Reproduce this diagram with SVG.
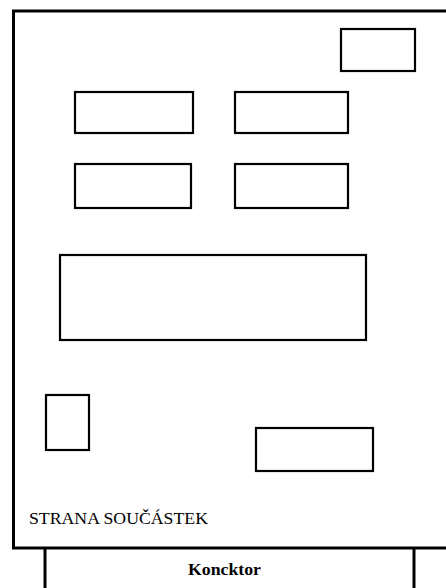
<svg xmlns="http://www.w3.org/2000/svg" width="446" height="588" viewBox="0 0 446 588">
<style>
.board{fill:none;stroke:#000;stroke-width:3}
.part{fill:none;stroke:#000;stroke-width:2.2}
.lbl{font-family:"Liberation Serif","Times New Roman",serif;fill:#000}
</style>
<rect width="446" height="588" fill="#fff"/>
<g id="board">
<polyline class="board" points="446,11 13.5,11 13.5,548 446,548"/>
<text class="lbl" x="29" y="524" font-size="17" textLength="179" lengthAdjust="spacingAndGlyphs">STRANA SOUČÁSTEK</text>
</g>
<g id="part1"><rect class="part" x="341" y="29" width="74" height="42"/></g>
<g id="part2"><rect class="part" x="75" y="92" width="118" height="41"/></g>
<g id="part3"><rect class="part" x="235" y="92" width="113" height="41"/></g>
<g id="part4"><rect class="part" x="75" y="164" width="116" height="44"/></g>
<g id="part5"><rect class="part" x="235" y="164" width="113" height="44"/></g>
<g id="part6"><rect class="part" x="60" y="255" width="306" height="85"/></g>
<g id="part7"><rect class="part" x="46" y="395" width="43" height="55"/></g>
<g id="part8"><rect class="part" x="256" y="428" width="117" height="43"/></g>
<g id="connector">
<line class="board" x1="45" y1="548" x2="45" y2="588"/>
<line class="board" x1="414" y1="548" x2="414" y2="588"/>
<text class="lbl" x="188" y="575" font-size="17.5" font-weight="bold" textLength="73" lengthAdjust="spacingAndGlyphs">Koncktor</text>
</g>
</svg>
